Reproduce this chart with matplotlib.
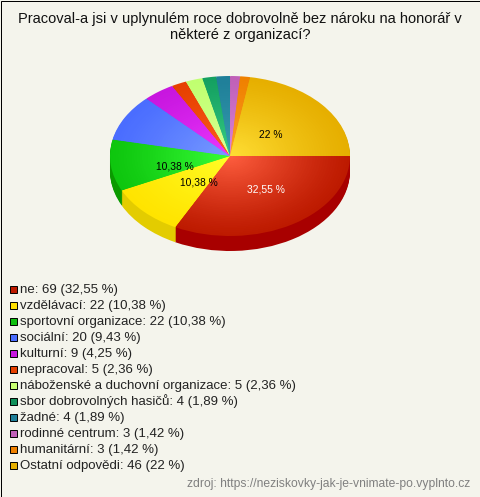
import matplotlib
matplotlib.use("Agg")
import matplotlib.pyplot as plt
from matplotlib.patches import Rectangle
import matplotlib.colors as mcolors
import numpy as np

categories = ["ne", "vzdělávací", "sportovní organizace", "sociální", "kulturní", "nepracoval",
              "náboženské a duchovní organizace", "sbor dobrovolných hasičů", "žadné",
              "rodinné centrum", "humanitární", "Ostatní odpovědi"]
counts = [69, 22, 22, 20, 9, 5, 5, 4, 4, 3, 3, 46]
percents = ["32,55", "10,38", "10,38", "9,43", "4,25", "2,36", "2,36", "1,89", "1,89", "1,42", "1,42", "22"]
# slice sizes (the small ones are drawn a bit narrower than the counts say)
slice_sizes = [69, 22, 22, 20, 9, 4.3, 4.83, 3.95, 3.95, 2.83, 2.83, 47.3]

rim_colors = ["#bd1a00", "#ffe400", "#0ec60e", "#4a6dff", "#c816df", "#e64000", "#c0ff70", "#14a060",
              "#1f7f99", "#c060b8", "#ef8000", "#e6af00"]
inner_colors = ["#ff5f40", "#ffff28", "#38ff38", "#7a9cff", "#ec38ff", "#ff5f20", "#dcff98", "#38d088",
                "#38a0b0", "#dc88dc", "#ffa428", "#ffdf35"]
legend_colors = ["#bd1a00", "#ffe000", "#10c010", "#4a6dff", "#c816df", "#e64000", "#c8ff70", "#10905a",
                 "#1f7f99", "#c060b8", "#ef8000", "#e6af00"]
side_colors = ["#a80000", "#e3cc00", "#0a9a00", "#3a55c8", "#a010b0", "#b83000", "#a0d060", "#108050",
               "#186878", "#a04898", "#c06800", "#c09000"]

BG = "#f4f4ec"
W, H = 480, 497
plt.rcParams["font.family"] = "Liberation Sans"

fig = plt.figure(figsize=(W / 100, H / 100), dpi=100, facecolor=BG)

# pie axes: unit circle squashed to the 120x80 px ellipse
cx, cy, rx, ry, depth = 230, 156, 120, 80, 15
ax = fig.add_axes([(cx - rx) / W, 1 - (cy + ry) / H, 2 * rx / W, 2 * ry / H])

# side wall, stacked copies going down
for d in np.arange(depth, 0, -1.0):
    ax.pie(slice_sizes, colors=side_colors, startangle=0, counterclock=False, radius=1,
           center=(0, -d / ry), wedgeprops={"linewidth": 0})

# top, radial shading from rim to centre
for r in np.linspace(1, 0.03, 45):
    t = (1 - r) ** 1.2
    cols = [tuple((1 - t) * np.array(mcolors.to_rgb(a)) + t * np.array(mcolors.to_rgb(b)))
            for a, b in zip(rim_colors, inner_colors)]
    ax.pie(slice_sizes, colors=cols, startangle=0, counterclock=False, radius=r,
           wedgeprops={"linewidth": 0})
ax.set_aspect("auto")
ax.set_xlim(-1, 1)
ax.set_ylim(-1, 1)
ax.axis("off")

# overlay in pixel coordinates for the text and the frame
ov = fig.add_axes([0, 0, 1, 1], facecolor="none")
ov.set_xlim(0, W)
ov.set_ylim(H, 0)
ov.axis("off")

ov.add_patch(Rectangle((0.5, 0.5), W - 1, H - 1, fill=False, edgecolor="black", linewidth=0.72))

ov.text(240, 19.5, "Pracoval-a jsi v uplynulém roce dobrovolně bez nároku na honorář v",
        ha="center", va="center", fontsize=10.5, color="#111111")
ov.text(240, 35.5, "některé z organizací?", ha="center", va="center", fontsize=10.5, color="#111111")

ov.text(266, 189.5, percents[0] + " %", ha="center", va="center", fontsize=7.4, color="white")
ov.text(199, 182.5, percents[1] + " %", ha="center", va="center", fontsize=7.4, color="black")
ov.text(175, 166.5, percents[2] + " %", ha="center", va="center", fontsize=7.4, color="black")
ov.text(271, 135.5, percents[11] + " %", ha="center", va="center", fontsize=7.4, color="black")

for i, (name, n, p) in enumerate(zip(categories, counts, percents)):
    y = 289.5 + i * 16
    ov.add_patch(Rectangle((10, y - 3.5), 6.5, 6.5, facecolor=legend_colors[i], edgecolor="black", linewidth=0.7))
    ov.text(20, y, "%s: %d (%s %%)" % (name, n, p), ha="left", va="center", fontsize=9.55, color="#222222")

ov.text(470, 484, "zdroj: https://neziskovky-jak-je-vnimate-po.vyplnto.cz", ha="right", va="center",
        fontsize=8.75, color="#808080")

fig.savefig("out.png", dpi=100, facecolor=BG)
